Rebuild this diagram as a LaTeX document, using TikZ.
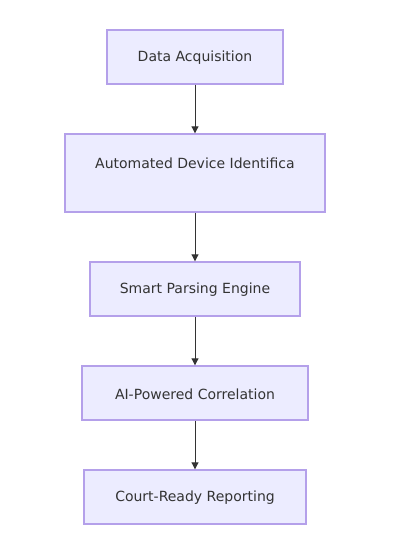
\documentclass[tikz,border=0pt]{standalone}
\usepackage{fontspec}
\setmainfont{DejaVu Sans}
\usetikzlibrary{arrows.meta}
\definecolor{boxfill}{HTML}{ECECFF}
\definecolor{boxline}{HTML}{B4A0EA}
\definecolor{txt}{HTML}{333333}
\begin{document}
\begin{tikzpicture}[x=1pt,y=-1pt,
  box/.style={draw=boxline,fill=boxfill,line width=1.4pt,inner sep=0pt},
  lbl/.style={text=txt,font=\fontsize{14}{16}\selectfont,inner sep=0pt},
  conn/.style={draw=txt,line width=1pt,-{Triangle[length=7pt,width=7pt]}}]
\useasboundingbox (0,0) rectangle (406,545);
\node[box,minimum width=176pt,minimum height=54pt] (n1) at (195,57) {};
\node[lbl] (t1) at (195,58) {Data Acquisition};
\node[box,minimum width=260pt,minimum height=78pt] (n2) at (195,173) {};
\begin{scope}
\clip (66,134) rectangle (294,212);
\node[lbl,anchor=west] (t2) at (95,163) {Automated Device Identification};
\end{scope}
\node[box,minimum width=210pt,minimum height=54pt] (n3) at (195,289) {};
\node[lbl] (t3) at (195,290) {Smart Parsing Engine};
\node[box,minimum width=226pt,minimum height=54pt] (n4) at (195,393) {};
\node[lbl] (t4) at (195,394) {AI-Powered Correlation};
\node[box,minimum width=222pt,minimum height=54pt] (n5) at (195,497) {};
\node[lbl] (t5) at (195,498) {Court-Ready Reporting};
\draw[conn] (n1.south) -- (n2.north);
\draw[conn] (n2.south) -- (n3.north);
\draw[conn] (n3.south) -- (n4.north);
\draw[conn] (n4.south) -- (n5.north);
\end{tikzpicture}
\end{document}
